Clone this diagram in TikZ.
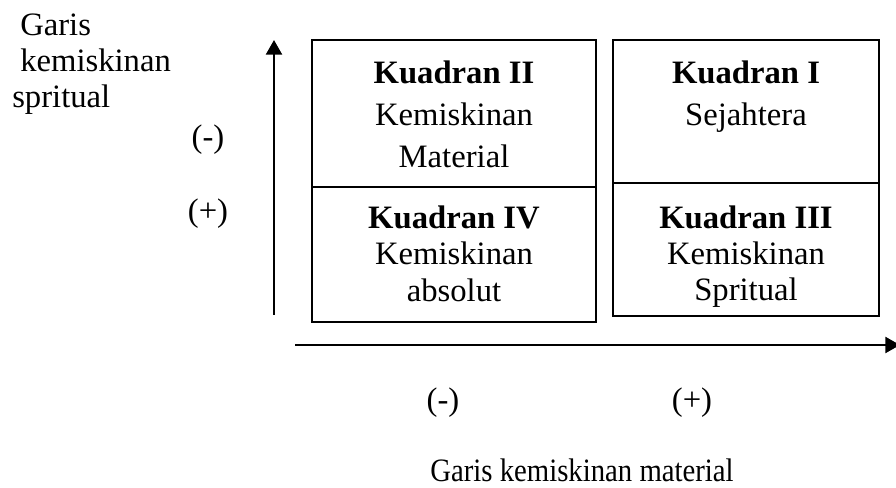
\documentclass[tikz,border=0pt]{standalone}
\usepackage{fontspec}
\usepackage{graphicx}
\setmainfont{Liberation Serif}
\usetikzlibrary{positioning}
\usetikzlibrary{arrows.meta}

\begin{document}
\begin{tikzpicture}[x=0.75pt, y=-0.75pt,
    quad/.style={rectangle, draw, line width=1.5pt, inner sep=0pt},
    qtext/.style={align=center, inner sep=0pt, anchor=north},
    lbl/.style={inner sep=0pt},
    axis/.style={line width=1.8pt, -{Triangle[width=12pt, length=11pt]}}]
    \useasboundingbox (0,0) rectangle (896,488);
    \fontsize{24.5}{31.5}\selectfont

    % Quadrant boxes
    \node[quad, minimum width=213pt, minimum height=110.25pt] (q2) at (454,113.5) {};
    \node[quad, minimum width=213pt, minimum height=101.25pt] (q4) at (454,254.5) {};
    \node[quad, minimum width=199.5pt, minimum height=107.25pt] (q1) at (746,111.5) {};
    \node[quad, minimum width=199.5pt, minimum height=99.75pt] (q3) at (746,249.5) {};

    % Quadrant texts
    \node[qtext, below=16.5pt of q2.north] (t2) {\textbf{Kuadran II}\\Kemiskinan\\Material};
    \node[qtext, below=16.5pt of q1.north] (t1) {\textbf{Kuadran I}\\Sejahtera};
    \node[qtext, below=14.5pt of q4.north, font=\fontsize{24.5}{27.5}\selectfont] (t4) {\textbf{Kuadran IV}\\Kemiskinan\\absolut};
    \node[qtext, below=17.5pt of q3.north, font=\fontsize{24.5}{27}\selectfont] (t3) {\textbf{Kuadran III}\\Kemiskinan\\Spritual};

    % Axes
    \coordinate (yfoot) at (274,315);
    \coordinate (ytip) at (274,40);
    \draw[axis] (yfoot) -- (ytip);
    \coordinate (xfoot) at (295,345);
    \coordinate (xtip) at (900,345);
    \draw[axis] (xfoot) -- (xtip);

    % Axis labels
    \node[lbl, align=left, anchor=north west, font=\fontsize{24.5}{27}\selectfont] (ylabel) at (12,14)
        {\hspace*{6pt}Garis\\\hspace*{6pt}kemiskinan\\spritual};
    \node[lbl] (yminus) at (208,140) {(-)};
    \node[lbl] (yplus) at (208,214) {(+)};
    \node[lbl] (xminus) at (443,403) {(-)};
    \node[lbl] (xplus) at (692,403) {(+)};
    \node[lbl] (xlabel) at (582,470) {\scalebox{0.88}[1]{Garis kemiskinan material}};
\end{tikzpicture}
\end{document}
